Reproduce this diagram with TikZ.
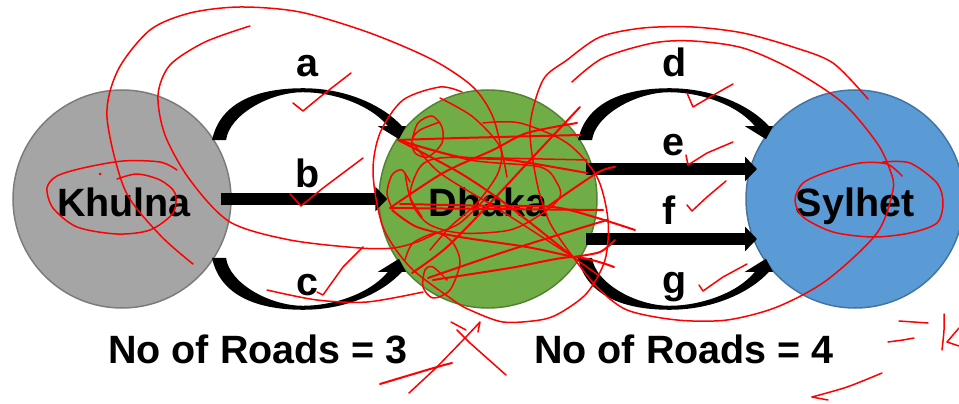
\documentclass[tikz,border=0pt]{standalone}
\usepackage{fontspec}
\setmainfont{Liberation Sans}
\usetikzlibrary{calc,arrows.meta}
\definecolor{khulnagray}{HTML}{A5A5A5}
\definecolor{dhakagreen}{HTML}{70AD47}
\definecolor{sylhetblue}{HTML}{5B9BD5}
\tikzset{
  city/.style={circle, minimum size=218pt, inner sep=0pt, line width=1.5pt},
  lbl/.style={anchor=base, inner sep=0pt, font=\fontsize{39.5}{40}\selectfont\bfseries},
  road/.style={line width=12pt, -{Triangle[length=12pt, width=24pt]}},
  ink/.style={red, line width=1.5pt, line cap=round, line join=round},
  inkthick/.style={ink, line width=2pt}
}
\begin{document}
\begin{tikzpicture}[x=1pt, y=-1pt]
  \useasboundingbox (0,0) rectangle (959,404);

  \node[city, fill=khulnagray, draw=khulnagray!75!black] (khulna) at (122,199) {};
  \node[city, fill=dhakagreen, draw=dhakagreen!75!black] (dhaka) at (488,199) {};
  \node[city, fill=sylhetblue, draw=sylhetblue!75!black] (sylhet) at (855,199) {};
  \node[lbl] (khulnatxt) at (124,216) {Khulna};
  \node[lbl] (dhakatxt) at (488,216) {Dhaka};
  \node[lbl] (sylhettxt) at (855,216) {Sylhet};

  % curved roads
  \foreach \startpt/\endpt/\flip in {khulna.33/dhaka.147/1, khulna.-33/dhaka.-147/-1, dhaka.33/sylhet.147/1, dhaka.-33/sylhet.-147/-1} {
    \coordinate (top) at ($(\startpt)!.5!(\endpt)+(-2,-51*\flip)$);
    \coordinate (tail) at ($(\startpt)+(-2,\flip)$);
    \fill (tail) .. controls +(7,-34*\flip) and +(-52,0) .. (top)
      .. controls +(46,0) and +(-17,-19*\flip) .. ($(\endpt)+(6,-13*\flip)$)
      -- ($(\endpt)+(10,-13*\flip)$) -- ($(\endpt)+(3,0)$) -- ($(\endpt)+(-18,-13*\flip)$) -- ($(\endpt)+(-8,-13*\flip)$)
      .. controls +(-18,-22*\flip) and +(30,0) .. ($(top)+(0,4*\flip)$)
      .. controls +(-34,0) and +(3,-25*\flip) .. ($(tail)+(14,0)$) -- cycle;
  }

  % straight roads
  \coordinate (etail) at ($(dhaka.center)+(98,-30)$);
  \coordinate (ehead) at ($(sylhet.center)+(-98,-30)$);
  \coordinate (ftail) at ($(dhaka.center)+(98,40)$);
  \coordinate (fhead) at ($(sylhet.center)+(-98,40)$);
  \draw[road] ($(khulna.east)+(-11,0)$) -- ($(dhaka.west)+(9,0)$);
  \draw[road] (etail) -- (ehead);
  \draw[road] (ftail) -- (fhead);

  \node[lbl] (a) at (307,77) {a};
  \node[lbl] (b) at (308,187) {b};
  \node[lbl] (c) at (307,295) {c};
  \node[lbl] (d) at (675,77) {d};
  \node[lbl] (e) at (673,155) {e};
  \node[lbl] (f) at (669,224) {f};
  \node[lbl] (g) at (675,293) {g};
  \node[lbl] (roads1) at (258,363) {No of Roads = 3};
  \node[lbl] (roads2) at (684,363) {No of Roads = 4};

  % ticks
  \draw[ink] (293,103) -- (303,111) -- (320,97) -- (351,73);
  \draw[ink] (290,194) -- (301,206) -- (323,188) -- (363,158);
  \draw[ink] (363,247) -- (343,267) -- (323,295) -- (317,292);
  \draw[ink] (687,93) -- (693,107) -- (710,97) -- (733,84);
  \draw[ink] (686,155) -- (688,165) -- (707,153) -- (733,142);
  \draw[ink] (687,205) -- (692,211) -- (707,197) -- (726,181);
  \draw[ink] (699,285) -- (703,291) -- (723,277) -- (747,264);

  % circled names
  \draw[ink] plot[smooth] coordinates {(177,170) (160,162) (123,161) (83,168) (57,176) (47,188) (53,208) (77,227) (117,234) (150,230) (173,213) (175,193) (160,180) (137,174) (117,179)};
  \fill[red] (100,174) circle (1.5pt);
  \draw[ink] plot[smooth] coordinates {(883,162) (910,163) (937,183) (943,203) (937,223) (910,233) (873,237) (833,232) (803,217) (795,200) (803,183) (827,172) (860,163) (887,164) (902,176)};

  % long sweeps
  \draw[ink] plot[smooth] coordinates {(193,264) (160,235) (125,190) (107,117) (118,70) (150,30) (190,13) (240,7) (300,12) (370,33) (433,60) (473,87) (493,117) (503,157) (507,177)};
  \draw[ink] plot[smooth] coordinates {(250,26) (205,42) (170,65) (158,95) (165,135) (190,180) (230,222) (290,240) (360,248) (393,248) (417,242) (437,233) (460,223) (487,197)};
  \draw[ink] plot[smooth] coordinates {(868,99) (833,63) (793,47) (743,33) (693,27) (643,28) (600,37) (567,60) (543,80) (530,127) (537,183) (550,223) (573,257)};
  \draw[ink] plot[smooth] coordinates {(572,82) (603,58) (653,43) (693,41) (743,48) (793,70) (843,103) (877,143) (890,170) (893,190) (877,233) (827,280) (777,307) (727,320) (677,320) (627,310) (597,287) (573,257)};
  \draw[ink] plot[smooth] coordinates {(462,92) (440,87) (403,100) (380,133) (373,173) (383,227) (410,267) (453,300) (470,310) (503,322) (540,320) (560,313) (587,293) (605,260) (608,220) (597,177) (567,143) (520,123) (483,123)};
  \draw[ink] plot[smooth] coordinates {(267,290) (317,300) (367,302) (423,292)};
  \draw[ink] plot[smooth] coordinates {(440,98) (473,117) (500,147) (498,173) (477,203) (450,227) (430,250)};

  % scribble over the middle city
  \draw[inkthick] plot[smooth] coordinates {(398,140) (460,138) (580,135)};
  \draw[inkthick] plot[smooth] coordinates {(398,140) (460,157) (510,160) (587,173)};
  \draw[ink] plot[smooth] coordinates {(398,140) (470,160) (540,167) (557,183) (560,197) (543,213) (510,230) (460,233) (427,223) (410,197) (420,167) (440,158) (493,158) (587,160)};
  \draw[inkthick] plot[smooth] coordinates {(390,208) (443,173) (493,150) (527,133) (577,123)};
  \draw[inkthick] (390,208) -- (603,210);
  \draw[inkthick] plot[smooth] coordinates {(400,204) (493,206) (560,208) (635,230)};
  \draw[inkthick] plot[smooth] coordinates {(392,210) (417,227) (460,237) (527,247) (573,257)};
  \draw[inkthick] plot[smooth] coordinates {(433,280) (510,268) (573,257) (614,267)};
  \draw[inkthick] plot[smooth] coordinates {(428,278) (510,250) (607,220)};
  \draw[inkthick] plot[smooth] coordinates {(412,273) (447,247) (493,200) (533,157) (580,107)};
  \draw[inkthick] plot[smooth] coordinates {(547,207) (597,173) (615,167)};
  \draw[inkthick] plot[smooth] coordinates {(398,140) (460,173) (510,207) (573,257)};
  \draw[ink] plot[smooth] coordinates {(413,143) (440,173) (500,210) (573,257)};
  \draw[inkthick] plot[smooth] coordinates {(573,257) (600,252) (615,240)};
  \draw[ink] (573,257) -- (598,275);
  \draw[ink] plot[smooth] coordinates {(412,140) (418,123) (432,116) (442,127) (442,143) (428,157) (415,153) (412,140) (420,130) (440,122)};
  \draw[ink] plot[smooth] coordinates {(410,182) (402,170) (392,175) (387,193) (392,208)};
  \draw[ink] plot[smooth] coordinates {(405,173) (410,197) (422,217)};
  \draw[ink] plot[smooth] coordinates {(405,260) (413,243) (437,233) (453,243) (460,263) (450,290) (433,298) (423,287) (425,270) (433,267) (447,280)};

  % crossed out
  \draw[inkthick] plot[smooth] coordinates {(380,384) (437,367) (452,363)};
  \draw[ink] (409,393) -- (437,367) -- (465,338) -- (480,322) -- (478,332);
  \draw[ink] (457,330) -- (470,343) -- (506,375);
  \draw[ink] (451,322) -- (466,330);

  % bottom right marks
  \draw[ink] (899,321) -- (928,323);
  \draw[ink] (914,338) -- (903,340) -- (888,342);
  \draw[ink] plot[smooth] coordinates {(944,314) (944,330) (942,350)};
  \draw[ink] (959,328) -- (947,342) -- (959,346);
  \draw[ink] plot[smooth] coordinates {(882,373) (847,387) (812,397)};
  \draw[ink] (812,397) -- (828,400);
\end{tikzpicture}
\end{document}
